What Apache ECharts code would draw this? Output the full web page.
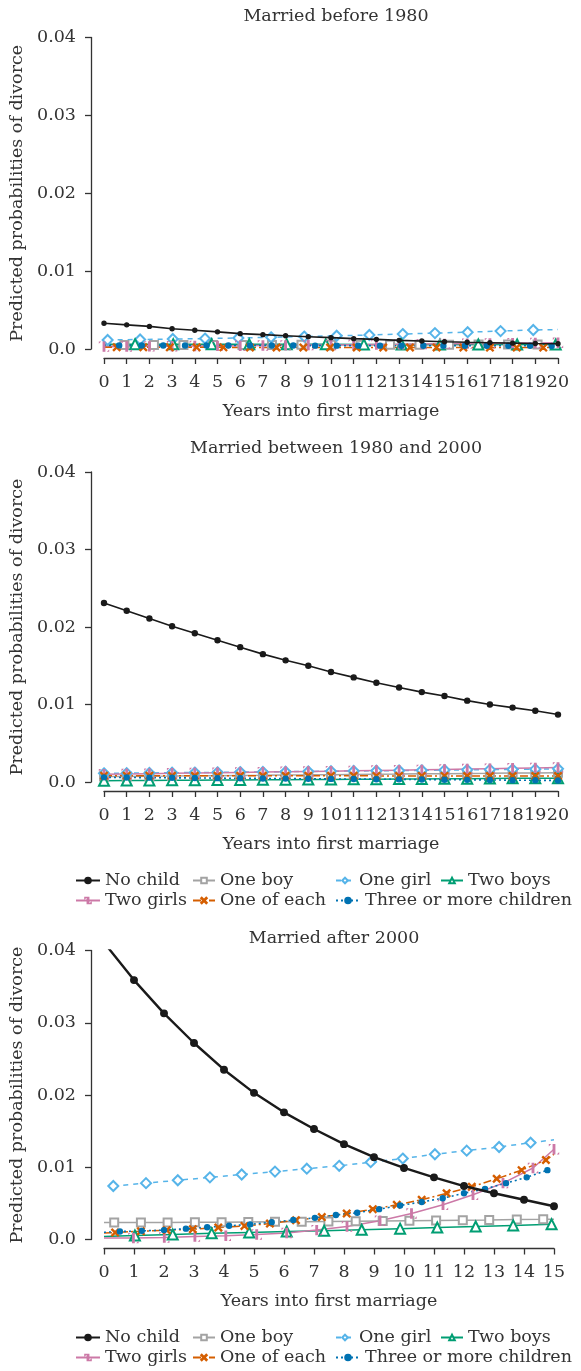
<!DOCTYPE html>
<html>
<head>
<meta charset="utf-8">
<script src="https://cdn.jsdelivr.net/npm/echarts@6/dist/echarts.min.js"></script>
<style>
  html, body { margin: 0; padding: 0; background: #fff; }
  #chart { width: 581px; height: 1371px; }
</style>
</head>
<body>
<div id="chart"></div>
<script>
(function () {
  "use strict";

  const TITLES = ["Married before 1980", "Married between 1980 and 2000", "Married after 2000"];
  const X20 = [0, 1, 2, 3, 4, 5, 6, 7, 8, 9, 10, 11, 12, 13, 14, 15, 16, 17, 18, 19, 20];
  const X15 = [0, 1, 2, 3, 4, 5, 6, 7, 8, 9, 10, 11, 12, 13, 14, 15];

  /* ---- Married before 1980 ---- */
  const P1_NOCHILD_Y = [0.0033, 0.0031, 0.0029, 0.0026, 0.0024, 0.0022, 0.00197, 0.00184, 0.00171, 0.00158, 0.00146,
    0.00133, 0.00124, 0.00111, 0.00103, 0.00094, 0.00086, 0.00081, 0.00075, 0.0007, 0.00068];
  const P1_BOY_X = [0, 0.9, 2.2, 3.5, 4.8, 6.1, 7.4, 8.7, 10, 11.3, 12.6, 13.9, 15.2, 16.5, 17.8, 19.1, 20];
  const P1_BOY_Y = [0.0005, 0.0005, 0.0005, 0.00051, 0.00051, 0.00052, 0.00052, 0.00053, 0.00053, 0.00054, 0.00055,
    0.00055, 0.00056, 0.00057, 0.00058, 0.00059, 0.0006];
  const P1_GIRL_X = [0.16, 1.59, 3.03, 4.45, 5.92, 7.36, 8.82, 10.25, 11.69, 13.16, 14.58, 16.02, 17.47, 18.91, 20];
  const P1_GIRL_Y = [0.00116, 0.00122, 0.00128, 0.00134, 0.00142, 0.0015, 0.0016, 0.0017, 0.0018, 0.00192, 0.00204,
    0.00216, 0.0023, 0.00244, 0.0025];
  const P1_TWOBOYS_X = [0, 1.37, 3.05, 4.74, 6.4, 8.05, 9.77, 11.45, 13.11, 14.8, 16.49, 18.2, 19.9, 20];
  const P1_TWOBOYS_Y = [0.00062, 0.00062, 0.00061, 0.00061, 0.0006, 0.0006, 0.0006, 0.00059, 0.00059, 0.00058,
    0.00058, 0.00058, 0.00057, 0.00057];
  const P1_TWOGIRLS_Y = [0.0003, 0.00032, 0.00034, 0.00036, 0.00038, 0.0004, 0.00042, 0.00045, 0.00047, 0.0005,
    0.00052, 0.00055, 0.00058, 0.0006, 0.00063, 0.00066, 0.00069, 0.00072, 0.00075, 0.00078, 0.0008];
  const P1_EACH_X = [0, 0.56, 1.73, 2.9, 4.08, 5.26, 6.43, 7.6, 8.78, 9.96, 11.13, 12.3, 13.48, 14.65, 15.83, 17.0,
    18.18, 19.35, 20];
  const P1_EACH_Y = [0.00022, 0.00022, 0.00022, 0.00021, 0.00021, 0.00021, 0.0002, 0.0002, 0.0002, 0.0002, 0.0002,
    0.00019, 0.00019, 0.00019, 0.00019, 0.00018, 0.00018, 0.00018, 0.00018];
  const P1_THREE_X = [0, 0.67, 1.66, 2.61, 3.57, 4.52, 5.48, 6.43, 7.39, 8.34, 9.3, 10.25, 11.2, 12.16, 13.1, 14.07,
    14.95, 15.9, 16.86, 17.81, 18.77, 19.72, 20];
  const P1_THREE_Y = [0.00046, 0.00046, 0.00045, 0.00045, 0.00045, 0.00045, 0.00044, 0.00044, 0.00044, 0.00044,
    0.00043, 0.00043, 0.00043, 0.00043, 0.00042, 0.00042, 0.00042, 0.00042, 0.00041, 0.00041, 0.00041, 0.0004, 0.0004];

  /* ---- Married between 1980 and 2000 ---- */
  const P2_NOCHILD_Y = [0.0231, 0.0221, 0.0211, 0.0201, 0.0192, 0.0183, 0.0174, 0.0165, 0.0157, 0.015, 0.0142,
    0.0135, 0.0128, 0.0122, 0.0116, 0.0111, 0.0105, 0.01, 0.0096, 0.0092, 0.0087];
  const P2_BOY_Y = [0.0007, 0.00072, 0.00075, 0.00077, 0.0008, 0.00082, 0.00085, 0.00087, 0.0009, 0.00092, 0.00095,
    0.00097, 0.001, 0.00102, 0.00105, 0.00107, 0.0011, 0.00112, 0.00115, 0.00117, 0.0012];
  const P2_GIRL_Y = [0.00112, 0.00114, 0.00117, 0.0012, 0.00122, 0.00125, 0.00128, 0.0013, 0.00133, 0.00136, 0.00139,
    0.00142, 0.00145, 0.00148, 0.00151, 0.00154, 0.00157, 0.0016, 0.00163, 0.00166, 0.0017];
  const P2_TWOBOYS_Y = [0.00017, 0.00019, 0.0002, 0.00022, 0.00023, 0.00025, 0.00027, 0.00028, 0.0003, 0.00032,
    0.00033, 0.00035, 0.00037, 0.00038, 0.0004, 0.00042, 0.00043, 0.00045, 0.00047, 0.00048, 0.0005];
  const P2_TWOGIRLS_Y = [0.001, 0.00104, 0.00108, 0.00112, 0.00116, 0.0012, 0.00124, 0.00128, 0.00132, 0.00136,
    0.0014, 0.00144, 0.00148, 0.00152, 0.00157, 0.00162, 0.00167, 0.00172, 0.00177, 0.00182, 0.00187];
  const P2_EACH_Y = [0.00082, 0.00082, 0.00082, 0.00081, 0.00081, 0.00081, 0.00081, 0.0008, 0.0008, 0.0008, 0.0008,
    0.0008, 0.00079, 0.00079, 0.00079, 0.00079, 0.00078, 0.00078, 0.00078, 0.00077, 0.00077];
  const P2_THREE_Y = [0.0006, 0.00058, 0.00056, 0.00054, 0.00052, 0.0005, 0.00048, 0.00046, 0.00044, 0.00042, 0.0004,
    0.00038, 0.00036, 0.00034, 0.00032, 0.0003, 0.00028, 0.00026, 0.00024, 0.00022, 0.0002];

  /* ---- Married after 2000 ---- */
  const P3_NOCHILD_Y = [0.0411, 0.0359, 0.0313, 0.0272, 0.0235, 0.0203, 0.0176, 0.0153, 0.0132, 0.0114, 0.0099,
    0.0086, 0.0074, 0.0064, 0.0055, 0.0046];
  const P3_BOY_X = [0, 0.34, 1.23, 2.12, 3.03, 3.92, 4.81, 5.7, 6.59, 7.48, 8.39, 9.29, 10.18, 11.07, 11.96, 12.84,
    13.76, 14.64, 15];
  const P3_BOY_Y = [0.00235, 0.00235, 0.00236, 0.00237, 0.00239, 0.0024, 0.00242, 0.00244, 0.00247, 0.0025, 0.00253,
    0.00256, 0.00259, 0.00263, 0.00267, 0.00271, 0.00276, 0.0028, 0.00282];
  const P3_GIRL_X = [0.31, 1.4, 2.46, 3.53, 4.59, 5.7, 6.76, 7.84, 8.89, 9.96, 11.03, 12.09, 13.17, 14.22, 15];
  const P3_GIRL_Y = [0.0074, 0.0078, 0.0082, 0.0086, 0.009, 0.0094, 0.0098, 0.0102, 0.0107, 0.0112, 0.0118, 0.0123,
    0.0128, 0.0134, 0.0138];
  const P3_TWOBOYS_X = [0, 1.03, 2.29, 3.59, 4.84, 6.09, 7.34, 8.59, 9.87, 11.11, 12.39, 13.64, 14.92, 15];
  const P3_TWOBOYS_Y = [0.0004, 0.00055, 0.0007, 0.00085, 0.00098, 0.0011, 0.0012, 0.00135, 0.0015, 0.00165, 0.0018,
    0.00195, 0.0021, 0.0021];
  const P3_TWOGIRLS_X = [0, 0.98, 2.01, 3.03, 4.06, 5.09, 6.09, 7.09, 8.1, 9.2, 10.25, 11.3, 12.3, 13.3, 14.3, 15];
  const P3_TWOGIRLS_Y = [0.0002, 0.0002, 0.00028, 0.0004, 0.00052, 0.0007, 0.0009, 0.0013, 0.0018, 0.0026, 0.0036,
    0.0048, 0.0062, 0.0078, 0.0099, 0.0125];
  const P3_EACH_X = [0, 0.37, 1.23, 2.09, 2.96, 3.81, 4.68, 5.53, 6.4, 7.26, 8.09, 8.96, 9.76, 10.59, 11.42, 12.26,
    13.09, 13.92, 14.73, 15];
  const P3_EACH_Y = [0.0009, 0.00097, 0.00115, 0.00129, 0.00143, 0.00166, 0.00188, 0.0022, 0.00267, 0.0031, 0.0036,
    0.0042, 0.0048, 0.0055, 0.0064, 0.0073, 0.0084, 0.0096, 0.011, 0.0118];
  const P3_THREE_X = [0, 0.53, 1.26, 2.0, 2.73, 3.44, 4.17, 4.87, 5.59, 6.31, 7.03, 7.73, 8.44, 9.17, 9.87, 10.59,
    11.29, 12.0, 12.7, 13.4, 14.09, 14.78];
  const P3_THREE_Y = [0.001, 0.0011, 0.0012, 0.0013, 0.0015, 0.0017, 0.0019, 0.0021, 0.0024, 0.0027, 0.003, 0.0034,
    0.0037, 0.0042, 0.0047, 0.0052, 0.0057, 0.0064, 0.007, 0.0078, 0.0086, 0.0096];

  // per panel: [name, xs, ys, indexes drawn without a marker]
  const PANELS = [
    [
      ["No child", X20, P1_NOCHILD_Y, []],
      ["One boy", P1_BOY_X, P1_BOY_Y, [0, 16]],
      ["One girl", P1_GIRL_X, P1_GIRL_Y, [14]],
      ["Two boys", P1_TWOBOYS_X, P1_TWOBOYS_Y, [0, 13]],
      ["Two girls", X20, P1_TWOGIRLS_Y, []],
      ["One of each", P1_EACH_X, P1_EACH_Y, [0, 18]],
      ["Three or more children", P1_THREE_X, P1_THREE_Y, [0, 22]],
    ],
    [
      ["No child", X20, P2_NOCHILD_Y, []],
      ["One boy", X20, P2_BOY_Y, []],
      ["One girl", X20, P2_GIRL_Y, []],
      ["Two boys", X20, P2_TWOBOYS_Y, []],
      ["Two girls", X20, P2_TWOGIRLS_Y, []],
      ["One of each", X20, P2_EACH_Y, []],
      ["Three or more children", X20, P2_THREE_Y, []],
    ],
    [
      ["No child", X15, P3_NOCHILD_Y, []],
      ["One boy", P3_BOY_X, P3_BOY_Y, [0, 18]],
      ["One girl", P3_GIRL_X, P3_GIRL_Y, [14]],
      ["Two boys", P3_TWOBOYS_X, P3_TWOBOYS_Y, [0, 13]],
      ["Two girls", P3_TWOGIRLS_X, P3_TWOGIRLS_Y, [0]],
      ["One of each", P3_EACH_X, P3_EACH_Y, [0, 19]],
      ["Three or more children", P3_THREE_X, P3_THREE_Y, [0]],
    ],
  ];

  const FONT = "DejaVu Serif";
  const INK = "#333333";
  const X_ICON = "path://M1,0 L5,4 L9,0 L10,1 L6,5 L10,9 L9,10 L5,6 L1,10 L0,9 L4,5 L0,1 Z";
  // vertical tick inside a square box (tiny corner specks keep the box square)
  const BAR_ICON = "path://M0,0 L0.01,0 L0,0.01 Z M10,10 L9.99,10 L10,9.99 Z M4.2,0 L5.8,0 L5.8,10 L4.2,10 Z";

  const STYLE = {
    "No child": { color: "#1a1a1a", symbol: "circle", size: 5, type: "solid", width: 1.6 },
    "One boy": { color: "#a3a3a3", symbol: "emptyRect", size: 8, type: "solid", width: 1.5 },
    "One girl": { color: "#56B4E9", symbol: "emptyDiamond", size: 10, type: [5, 5], width: 1.5 },
    "Two boys": { color: "#009E73", symbol: "emptyTriangle", size: 10, type: "solid", width: 1.5 },
    "Two girls": { color: "#CC79A7", symbol: BAR_ICON, size: 9, type: "solid", width: 1.5 },
    "One of each": { color: "#D55E00", symbol: X_ICON, size: 7, type: [8, 3, 2, 3], width: 1.5 },
    "Three or more children": { color: "#0072B2", symbol: "circle", size: 5, type: [2, 3], width: 1.6 },
  };

  // grid geometry (pixel frame of each panel's 0..max box)
  const GRIDS = [
    { top: 37.5, height: 311.5, right: 23, xmax: 20, titleTop: 2 },
    { top: 472, height: 310, right: 23, xmax: 20, titleTop: 434 },
    { top: 950.5, height: 289, right: 27, xmax: 15, titleTop: 924 },
  ];

  const grid = [], xAxis = [], yAxis = [], title = [], series = [];
  GRIDS.forEach((g, i) => {
    grid.push({ left: 104, right: g.right, top: g.top, height: g.height });
    title.push({
      text: TITLES[i], left: 104 + (581 - 104 - g.right) / 2, top: g.titleTop, textAlign: "center",
      textStyle: { fontFamily: FONT, fontSize: 17.5, fontWeight: "normal", color: INK },
    });
    xAxis.push({
      gridIndex: i, type: "value", min: 0, max: g.xmax, interval: 1, offset: 9,
      axisLine: { show: true, onZero: false, lineStyle: { color: INK, width: 1.3 } },
      axisTick: { show: true, length: 6, lineStyle: { color: INK, width: 1.3 } },
      axisLabel: { margin: 15, fontFamily: FONT, fontSize: 17.5, color: INK },
      splitLine: { show: false },
      name: "Years into first marriage", nameLocation: "middle", nameGap: 44,
      nameTextStyle: { fontFamily: FONT, fontSize: 17.5, color: INK },
    });
    yAxis.push({
      gridIndex: i, type: "value", min: 0, max: 0.04, interval: 0.01, offset: 13,
      axisLine: { show: true, onZero: false, lineStyle: { color: INK, width: 1.3 } },
      axisTick: { show: true, length: 6, lineStyle: { color: INK, width: 1.3 } },
      axisLabel: {
        margin: 15, fontFamily: FONT, fontSize: 17.5, color: INK,
        formatter: (v) => (v === 0 ? "0.0" : v.toFixed(2)),
      },
      splitLine: { show: false },
      name: "Predicted probabilities of divorce", nameLocation: "middle", nameGap: 62,
      nameTextStyle: { fontFamily: FONT, fontSize: 17.5, color: INK },
    });

    PANELS[i].forEach(([name, xs, ys, bare]) => {
      const st = STYLE[name];
      const big = i === 2 && name === "No child";
      series.push({
        name, type: "line", xAxisIndex: i, yAxisIndex: i,
        data: xs.map((x, k) => (bare.indexOf(k) >= 0
          ? { value: [x, ys[k]], symbol: "none" }
          : [x, ys[k]])),
        symbol: st.symbol, symbolSize: big ? 6.5 : (i === 0 && name === "No child" ? 4 : st.size),
        symbolKeepAspect: true, showAllSymbol: true,
        lineStyle: { color: st.color, width: big ? 2.4 : st.width, type: st.type },
        itemStyle: { color: st.color, borderColor: st.color, borderWidth: 1.4 },
        z: name === "No child" ? 4 : 3,
        emphasis: { disabled: true },
        animation: false,
      });
    });
  });

  // legend columns: [name, left, row, icon width]
  const LEGEND_SLOTS = [
    ["No child", 75, 0, 24], ["One boy", 192, 0, 22], ["One girl", 335, 0, 18], ["Two boys", 440, 0, 22],
    ["Two girls", 75, 1, 24], ["One of each", 192, 1, 22], ["Three or more children", 335, 1, 24],
  ];
  const LEGEND_TOPS = [[871.5, 891.5], [1328.5, 1348.5]];
  const legend = [];
  LEGEND_TOPS.forEach((rows) => {
    LEGEND_SLOTS.forEach(([name, left, row, w]) => {
      legend.push({
        data: [name], left, top: rows[row], itemWidth: w, itemHeight: 7, padding: 0,
        selectedMode: false,
        textStyle: { fontFamily: FONT, fontSize: 17.5, color: INK },
      });
    });
  });

  const chart = echarts.init(document.getElementById("chart"), null, { renderer: "canvas" });
  chart.setOption({
    animation: false,
    backgroundColor: "#ffffff",
    textStyle: { fontFamily: FONT },
    title, grid, xAxis, yAxis, legend, series,
  });
})();
</script>
</body>
</html>
